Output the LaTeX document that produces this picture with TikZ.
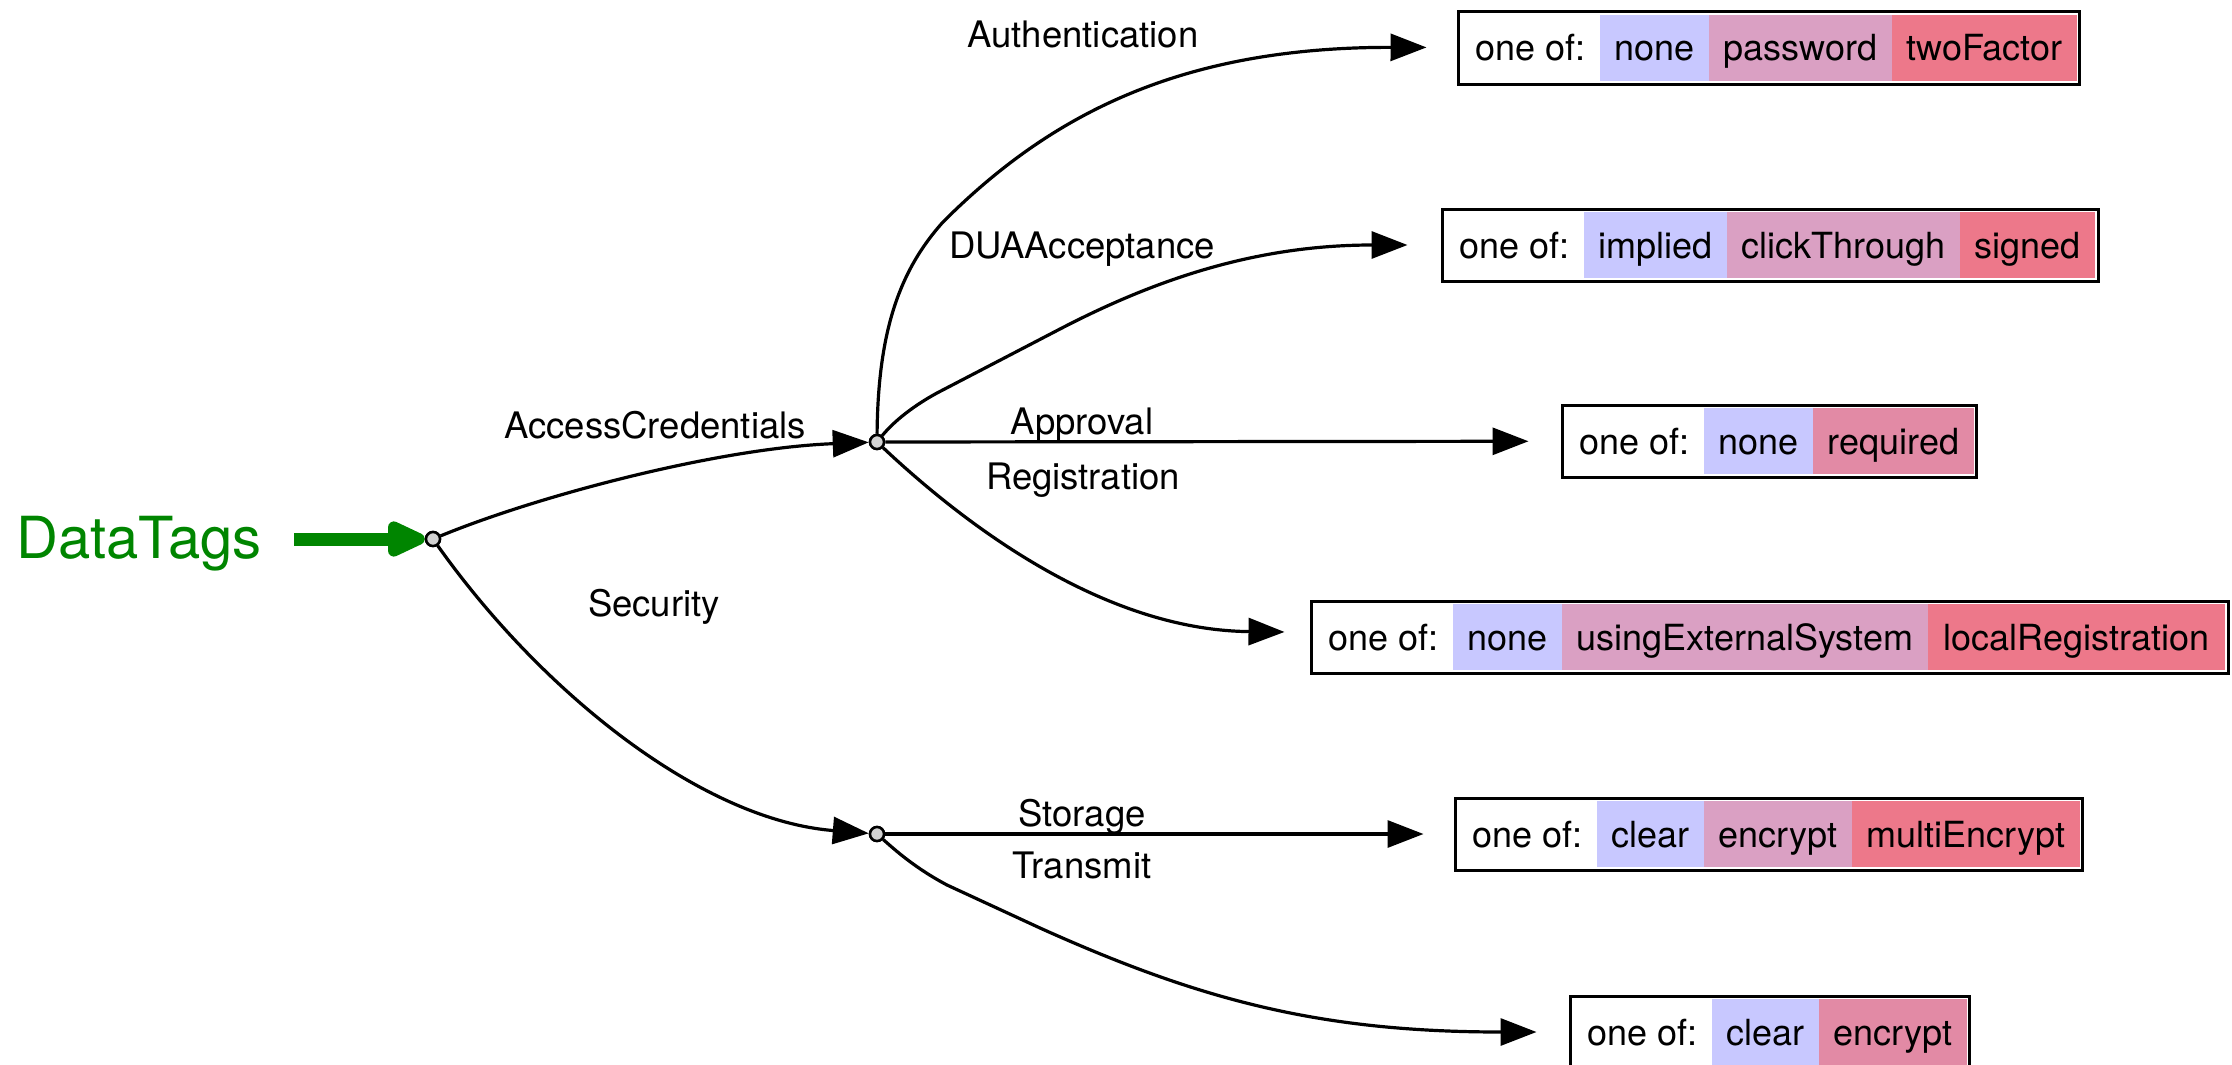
\documentclass[tikz,border=0pt]{standalone}
\usepackage{fontspec}
\setmainfont{TeX Gyre Heros}
\usetikzlibrary{arrows.meta,positioning,fit}

\definecolor{optA}{RGB}{200,200,255}
\definecolor{optB}{RGB}{218,160,195}
\definecolor{optC}{RGB}{237,120,138}
\definecolor{optBC}{RGB}{226,138,165}
\definecolor{tagGreen}{RGB}{0,133,0}
\definecolor{dotGray}{RGB}{210,210,210}

\tikzset{
  cell/.style={anchor=west, inner xsep=14.5pt, inner ysep=0pt, outer sep=0pt,
    minimum height=66pt, text height=26pt, text depth=0pt,
    font=\fontsize{36}{40}\selectfont},
  frame/.style={draw, line width=3pt, inner sep=3pt},
  junction/.style={circle, draw, fill=dotGray, line width=2.5pt,
    minimum size=14pt, inner sep=0pt},
  edge/.style={draw, line width=3.2pt, -{Triangle[length=36pt,width=27pt]}},
  greenarrow/.style={draw=tagGreen, line width=13pt,
    -{Triangle[length=46pt,width=38pt,round,fill=tagGreen]}},
  lbl/.style={anchor=base, inner sep=0pt, font=\fontsize{36.5}{40}\selectfont},
}

\begin{document}
\begin{tikzpicture}[x=1pt,y=-1pt]
\useasboundingbox (0,0) rectangle (2232,1065);

% root tag and its entry arrow
\node[anchor=base west, inner sep=0pt, text=tagGreen,
      font=\fontsize{58}{62}\selectfont] (dt) at (16,558) {DataTags};
\node[junction] (root) at (433,539) {};
\node[junction] (ac) at (877,442) {};
\node[junction] (sec) at (877,834) {};
\draw[greenarrow, shorten <=32pt] (dt.east |- root) -- (root);

% value boxes
\node[cell] (b1a) at (1461,48) {one of:};
\node[cell, fill=optA, right=0pt of b1a] (b1b) {none};
\node[cell, fill=optB, right=0pt of b1b] (b1c) {password};
\node[cell, fill=optC, right=0pt of b1c] (b1d) {twoFactor};
\node[frame, fit=(b1a)(b1d)] (b1) {};

\node[cell] (b2a) at (1445,245) {one of:};
\node[cell, fill=optA, right=0pt of b2a] (b2b) {implied};
\node[cell, fill=optB, right=0pt of b2b] (b2c) {clickThrough};
\node[cell, fill=optC, right=0pt of b2c] (b2d) {signed};
\node[frame, fit=(b2a)(b2d)] (b2) {};

\node[cell] (b3a) at (1565,441) {one of:};
\node[cell, fill=optA, right=0pt of b3a] (b3b) {none};
\node[cell, fill=optBC, right=0pt of b3b] (b3c) {required};
\node[frame, fit=(b3a)(b3c)] (b3) {};

\node[cell] (b4a) at (1314,637) {one of:};
\node[cell, fill=optA, right=0pt of b4a] (b4b) {none};
\node[cell, fill=optB, right=0pt of b4b] (b4c) {usingExternalSystem};
\node[cell, fill=optC, right=0pt of b4c, inner xsep=16pt] (b4d) {localRegistration};
\node[frame, fit=(b4a)(b4d)] (b4) {};

\node[cell] (b5a) at (1458,834) {one of:};
\node[cell, fill=optA, right=0pt of b5a] (b5b) {clear};
\node[cell, fill=optB, right=0pt of b5b] (b5c) {encrypt};
\node[cell, fill=optC, right=0pt of b5c] (b5d) {multiEncrypt};
\node[frame, fit=(b5a)(b5d)] (b5) {};

\node[cell] (b6a) at (1573,1032) {one of:};
\node[cell, fill=optA, right=0pt of b6a] (b6b) {clear};
\node[cell, fill=optBC, right=0pt of b6b] (b6c) {encrypt};
\node[frame, fit=(b6a)(b6c)] (b6) {};

% connectors
\draw[edge] (root) .. controls (540,495) and (720,448) .. (ac);
\draw[edge] (root) .. controls (540,690) and (700,820) .. (sec);
\draw[edge, shorten >=30pt] (ac) .. controls (878,330) and (900,270) .. (943,222)
  .. controls (1050,115) and (1180,47) .. (b1);
\draw[edge, shorten >=33pt] (ac) .. controls (895,420) and (915,405) .. (937,393)
  -- (1060,329) .. controls (1160,277) and (1260,245) .. (b2);
\draw[edge, shorten >=32pt] (ac) -- (b3);
\draw[edge, shorten >=25pt] (ac) .. controls (960,520) and (1100,630) .. (b4);
\draw[edge, shorten >=30pt] (sec) -- (b5);
\draw[edge, shorten >=32pt] (sec) .. controls (895,850) and (915,868) .. (947,885)
  -- (1040,928) .. controls (1200,1000) and (1320,1032) .. (b6);

% junction dots drawn again above the line ends
\node[junction] at (root) {};
\node[junction] at (ac) {};
\node[junction] at (sec) {};

% connector labels
\node[lbl] (lAC) at (655,438) {AccessCredentials};
\node[lbl] (lSec) at (654,616) {Security};
\node[lbl] (lAuth) at (1083,48) {Authentication};
\node[lbl] (lDUA) at (1082,258) {DUAAcceptance};
\node[lbl] (lApp) at (1082,434) {Approval};
\node[lbl] (lReg) at (1083,489) {Registration};
\node[lbl] (lSto) at (1082,826) {Storage};
\node[lbl] (lTra) at (1082,878) {Transmit};
\end{tikzpicture}
\end{document}
